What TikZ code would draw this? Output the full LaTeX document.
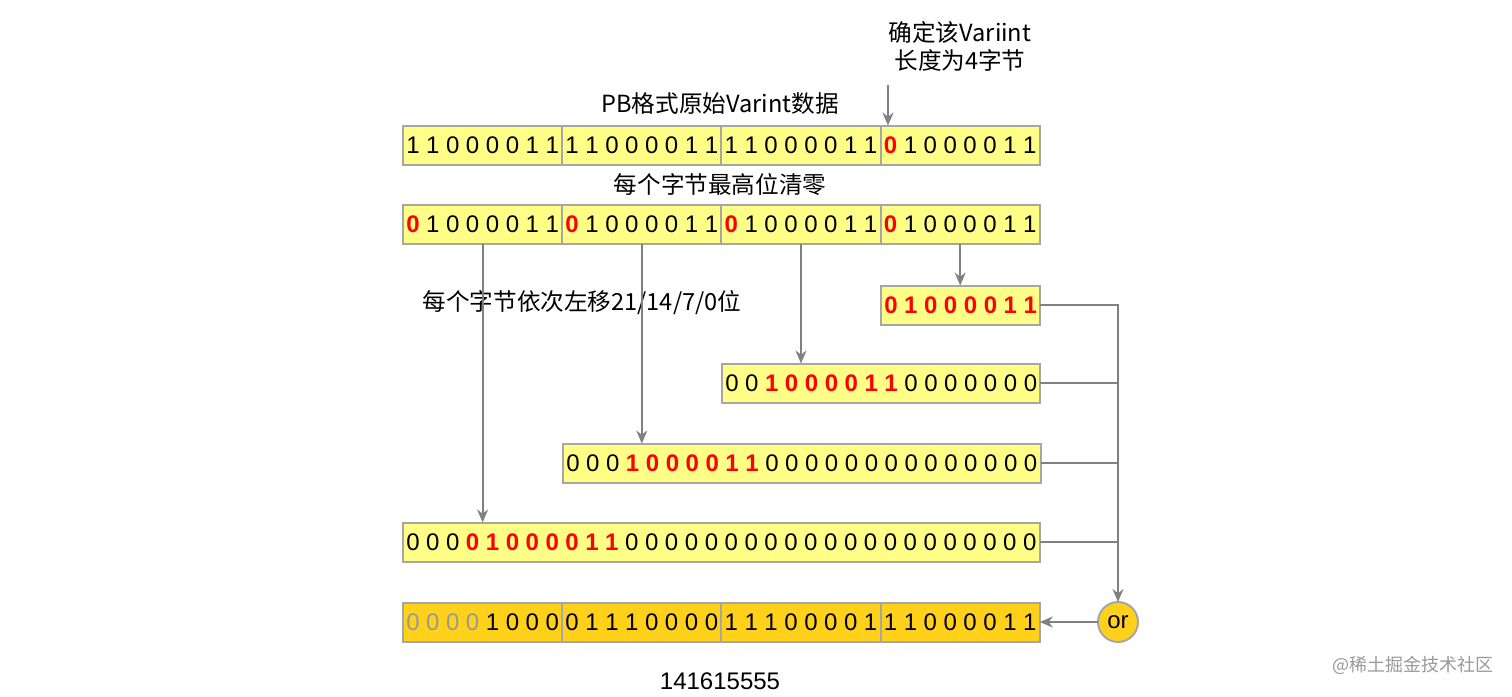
\documentclass[tikz,border=0pt]{standalone}
\usepackage{fontspec}
\setmainfont{Liberation Sans}
\newfontfamily\cjk{Noto Sans CJK SC}
\usetikzlibrary{arrows.meta}
\definecolor{cellfill}{HTML}{FFFF88}
\definecolor{goldfill}{HTML}{FFD11A}
\definecolor{edgegray}{HTML}{A6A6A6}
\definecolor{arrgray}{HTML}{808080}
\definecolor{bitred}{HTML}{FF0000}
\definecolor{bitgray}{HTML}{999999}
\newdimen\bw \bw=9.95pt
\def\bits#1{\bitsloop#1\relax}
\def\bitsloop#1{\ifx#1\relax\else\makebox[\bw]{#1}\expandafter\bitsloop\fi}
\newcommand\rb[1]{{\color{bitred}\bfseries\bits{#1}}}
\newcommand\gb[1]{{\color{bitgray}\bits{#1}}}
\begin{document}
\begin{tikzpicture}[x=0.5pt,y=-0.5pt,
  cell/.style={draw=edgegray, fill=cellfill, line width=1pt, minimum height=19.5pt, inner sep=0pt, outer sep=0pt, anchor=west, font=\fontsize{12}{14}\selectfont},
  goldcell/.style={cell, fill=goldfill},
  arr/.style={draw=arrgray, line width=1pt, -{Stealth[length=6.5pt,width=5.5pt]}},
  ln/.style={draw=arrgray, line width=1pt},
  lbl/.style={font=\cjk\fontsize{11.8}{14}\selectfont, inner sep=0pt},
  orc/.style={circle, draw=edgegray, fill=goldfill, line width=1pt, minimum size=20pt, inner sep=0pt, outer sep=0pt, font=\fontsize{12}{14}\selectfont},
  wm/.style={font=\cjk\fontsize{9}{11}\selectfont, text=bitgray, inner sep=0pt}]
\useasboundingbox (0,0) rectangle (1512,697);
% labels
\node[lbl, align=center] (t0) at (960,46) {确定该Variint\\长度为4字节};
\node[lbl] (t1) at (720,104) {PB格式原始Varint数据};
\coordinate (ta) at (888,85);
% row 1
\node[cell] (r1c1) at (403,145) {\bits{11000011}};
\node[cell] (r1c2) at (r1c1.east) {\bits{11000011}};
\node[cell] (r1c3) at (r1c2.east) {\bits{11000011}};
\node[cell] (r1c4) at (r1c3.east) {\rb{0}\bits{1000011}};
\node[lbl] (t2) at (720,185) {每个字节最高位清零};
% row 2
\node[cell] (r2c1) at (403,224) {\rb{0}\bits{1000011}};
\node[cell] (r2c2) at (r2c1.east) {\rb{0}\bits{1000011}};
\node[cell] (r2c3) at (r2c2.east) {\rb{0}\bits{1000011}};
\node[cell] (r2c4) at (r2c3.east) {\rb{0}\bits{1000011}};
\node[lbl] (t3) at (582,303) {每个字节依次左移21/14/7/0位};
% shifted rows
\node[cell] (r3a) at (881,305) {\rb{01000011}};
\node[cell] (r3) at (722,383) {\bits{00}\rb{1000011}\bits{0000000}};
\node[cell] (r4) at (563,463) {\bits{000}\rb{1000011}\bits{00000000000000}};
\node[cell] (r5) at (403,542) {\bits{000}\rb{01000011}\bits{000000000000000000000}};
% result row
\node[goldcell] (r6c1) at (403,622) {\gb{0000}\bits{1000}};
\node[goldcell] (r6c2) at (r6c1.east) {\bits{01110000}};
\node[goldcell] (r6c3) at (r6c2.east) {\bits{11100001}};
\node[goldcell] (r6c4) at (r6c3.east) {\bits{11000011}};
\node[orc] (or) at (1118,622) {or};
\node[font=\fontsize{12}{14}\selectfont, inner sep=0pt] (res) at (720,681) {141615555};
\node[wm] (wm) at (1413,665) {@稀土掘金技术社区};
% connectors
\draw[arr] (ta) -- (ta |- r1c4.north);
\draw[arr] (r2c1.south) -- (r2c1.south |- r5.north);
\draw[arr] (r2c2.south) -- (r2c2.south |- r4.north);
\draw[arr] (r2c3.south) -- (r2c3.south |- r3.north);
\draw[arr] (r2c4.south) -- (r2c4.south |- r3a.north);
\coordinate (bus) at (1118,305);
\draw[arr] (r3a.east) -- (bus) -- (bus |- or.north);
\draw[ln] (r3.east) -- (r3.east -| bus);
\draw[ln] (r4.east) -- (r4.east -| bus);
\draw[ln] (r5.east) -- (r5.east -| bus);
\draw[arr] (or.west) -- (r6c4.east);
\end{tikzpicture}
\end{document}
